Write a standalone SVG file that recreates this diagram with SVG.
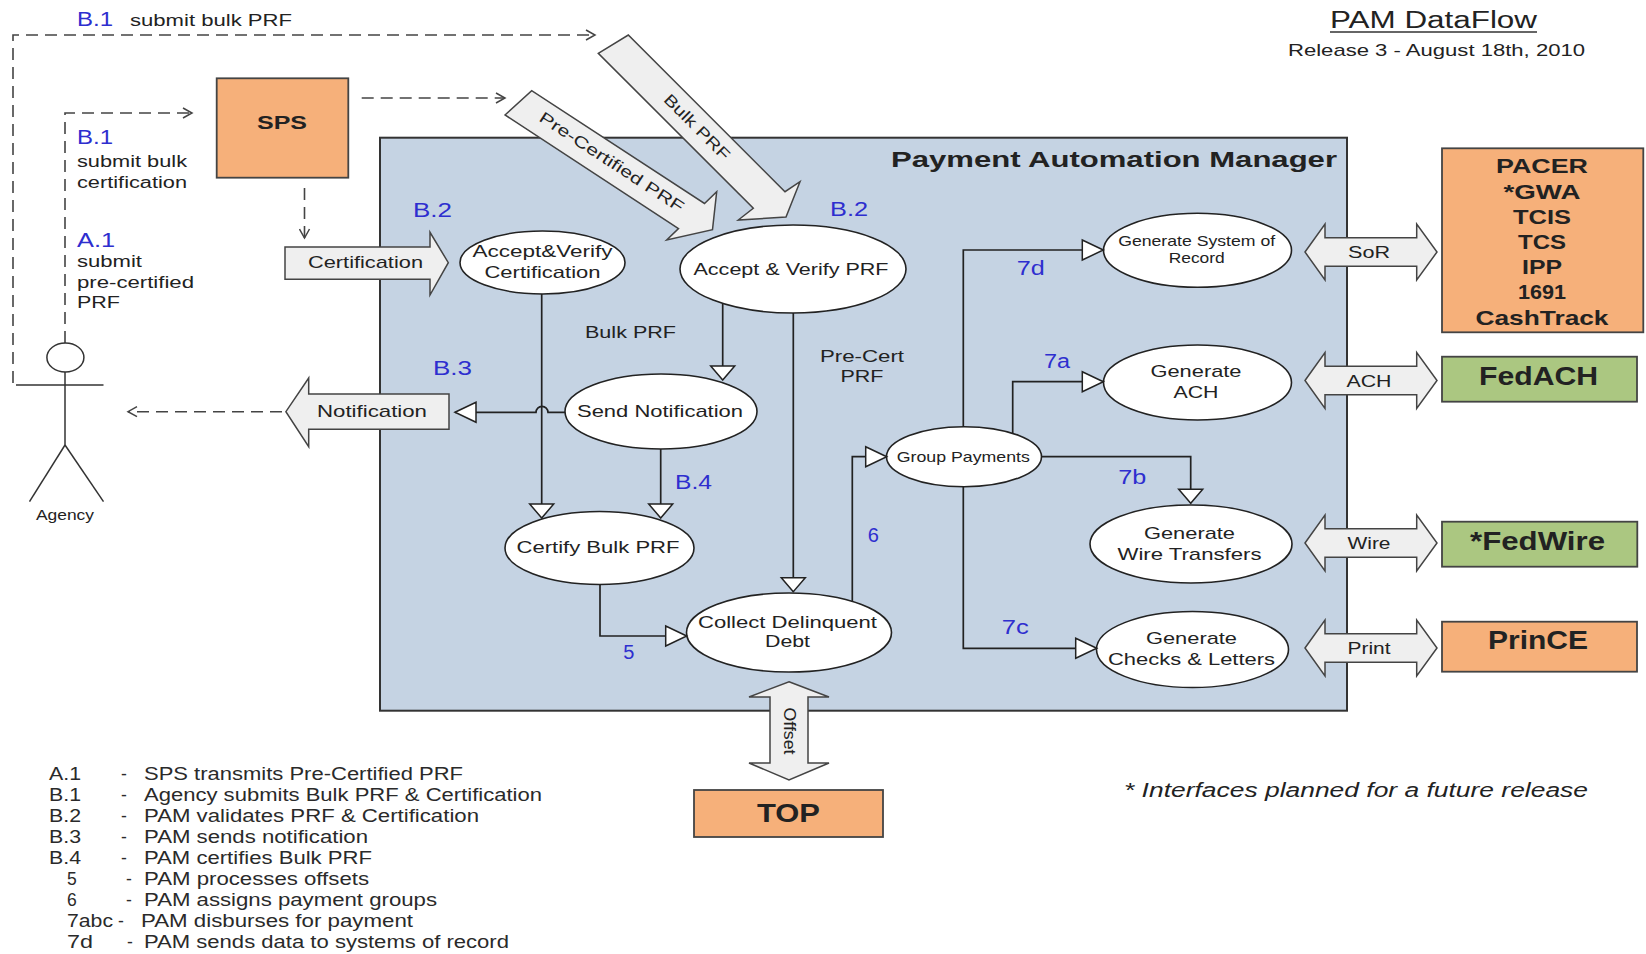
<svg xmlns="http://www.w3.org/2000/svg" width="1646" height="954" viewBox="0 0 1646 954">
<style>
.t{font-family:"Liberation Sans",Arial,sans-serif;fill:#222}
.b{font-weight:bold}
.blue{fill:#2E2ECF;font-size:20px}
.s16{font-size:16px}
.s17{font-size:17px}
.lg{font-size:17.5px;fill:#2a2a2a}
.el{fill:#fff;stroke:#222;stroke-width:1.6}
.cn{fill:none;stroke:#222;stroke-width:1.7}
.ah{fill:#fff;stroke:#222;stroke-width:1.5;stroke-linejoin:miter}
.dash{fill:none;stroke:#444;stroke-width:1.6;stroke-dasharray:12 7}
.blk{fill:#EFEFEF;stroke:#444;stroke-width:1.5;stroke-linejoin:miter}
.org{fill:#F6B07A;stroke:#444;stroke-width:1.8}
.grn{fill:#ABC781;stroke:#444;stroke-width:1.8}
.fig{fill:none;stroke:#333;stroke-width:1.5}
</style>
<defs>
<marker id="chev" markerWidth="12" markerHeight="12" refX="10" refY="6" orient="auto" markerUnits="userSpaceOnUse">
<path d="M1,1 L10,6 L1,11" fill="none" stroke="#444" stroke-width="1.5" stroke-dasharray="none"/>
</marker>
<polygon id="ahD" points="0,0 -12,-14 12,-14"/>
<polygon id="ahR" points="0,0 -21,-10 -21,10"/>
<polygon id="ahL" points="0,0 21,-10 21,10"/>
<polygon id="dbl" points="0,0 20,-28 20,-14.3 111.7,-14.3 111.7,-28 132,0 111.7,28 111.7,14.3 20,14.3 20,28"/>
</defs>
<rect width="1646" height="954" fill="#fff"/>

<!-- title -->
<g id="title">
<text class="t" x="1330" y="28" font-size="23" textLength="207" lengthAdjust="spacingAndGlyphs">PAM DataFlow</text>
<line x1="1330" y1="32" x2="1537" y2="32" stroke="#333" stroke-width="1.5"/>
<text class="t" x="1288" y="56" font-size="17" textLength="297" lengthAdjust="spacingAndGlyphs">Release 3 - August 18th, 2010</text>
</g>

<!-- PAM container -->
<g id="pam">
<rect x="380" y="137.7" width="967" height="573" fill="#C5D3E3" stroke="#333" stroke-width="2"/>
<text class="t b" x="891" y="167" font-size="22" textLength="446" lengthAdjust="spacingAndGlyphs">Payment Automation Manager</text>
</g>

<!-- dashed flows -->
<g id="dashed-connectors">
<path class="dash" d="M13,383 V35 H595" marker-end="url(#chev)"/>
<path class="dash" d="M65,343 V113 H192" marker-end="url(#chev)"/>
<path class="dash" d="M361.7,98 H505" marker-end="url(#chev)"/>
<path class="dash" d="M304.5,188 V238" marker-end="url(#chev)"/>
<path class="dash" d="M282,411.7 H128" marker-end="url(#chev)"/>
</g>

<!-- labels outside -->
<g id="labels-left">
<text class="t blue" x="77" y="26" textLength="36" lengthAdjust="spacingAndGlyphs">B.1</text>
<text class="t s16" x="130" y="26" textLength="162" lengthAdjust="spacingAndGlyphs">submit bulk PRF</text>
<text class="t blue" x="77" y="143.5" textLength="36" lengthAdjust="spacingAndGlyphs">B.1</text>
<text class="t s16" x="77" y="166.7" textLength="110" lengthAdjust="spacingAndGlyphs">submit bulk</text>
<text class="t s16" x="77" y="188.3" textLength="110" lengthAdjust="spacingAndGlyphs">certification</text>
<text class="t blue" x="77" y="246.7" textLength="38" lengthAdjust="spacingAndGlyphs">A.1</text>
<text class="t s16" x="77" y="266.7" textLength="65" lengthAdjust="spacingAndGlyphs">submit</text>
<text class="t s16" x="77" y="288.3" textLength="117" lengthAdjust="spacingAndGlyphs">pre-certified</text>
<text class="t s16" x="77" y="308.3" textLength="43" lengthAdjust="spacingAndGlyphs">PRF</text>
</g>

<!-- Agency actor -->
<g id="agency">
<ellipse class="fig" cx="65.4" cy="357.5" rx="18.5" ry="14.5"/>
<line class="fig" x1="16" y1="385" x2="103.5" y2="385"/>
<line class="fig" x1="65" y1="372" x2="65" y2="445"/>
<line class="fig" x1="65" y1="445" x2="29.5" y2="501.7"/>
<line class="fig" x1="65" y1="445" x2="103.5" y2="501.7"/>
<text class="t" x="65" y="520" font-size="14" text-anchor="middle" textLength="58" lengthAdjust="spacingAndGlyphs">Agency</text>
</g>

<!-- SPS -->
<g id="sps">
<rect class="org" x="216.7" y="78.3" width="131.6" height="99.4"/>
<text class="t b" x="282" y="129" font-size="19" text-anchor="middle" textLength="50" lengthAdjust="spacingAndGlyphs">SPS</text>
</g>

<!-- block arrows -->
<g id="certification-arrow">
<polygon class="blk" points="285,247 430,247 430,232.3 448.3,262.7 430,295 430,279.3 285,279.3"/>
<text class="t s17" x="365.5" y="268.3" text-anchor="middle" textLength="115" lengthAdjust="spacingAndGlyphs">Certification</text>
</g>
<g id="notification-arrow">
<polygon class="blk" points="449,394 449,429.3 308.7,429.3 308.7,446.7 285.9,411.7 308.7,378 308.7,394"/>
<text class="t s17" x="372" y="417" text-anchor="middle" textLength="110" lengthAdjust="spacingAndGlyphs">Notification</text>
</g>
<g id="precert-arrow">
<polygon class="blk" points="505,115 531.7,90.7 704.5,203.5 716.7,191.7 712.5,229.7 666.7,240 678.5,228.5"/>
<text class="t s16" transform="translate(611.7,162) rotate(33.2)" text-anchor="middle" dominant-baseline="central" textLength="169" lengthAdjust="spacingAndGlyphs">Pre-Certified PRF</text>
</g>
<g id="bulkprf-arrow">
<polygon class="blk" points="598.3,53.3 628.3,35 785,191.7 800,181.7 786,217 738.3,220 753.3,208.3"/>
<text class="t s16" transform="translate(697,127) rotate(45)" text-anchor="middle" dominant-baseline="central" textLength="86" lengthAdjust="spacingAndGlyphs">Bulk PRF</text>
</g>

<!-- step labels inside -->
<g id="step-labels">
<text class="t blue" x="413" y="216.7" textLength="39" lengthAdjust="spacingAndGlyphs">B.2</text>
<text class="t blue" x="830" y="216" textLength="38" lengthAdjust="spacingAndGlyphs">B.2</text>
<text class="t blue" x="433" y="375" textLength="39" lengthAdjust="spacingAndGlyphs">B.3</text>
<text class="t blue" x="675" y="489.3" textLength="37" lengthAdjust="spacingAndGlyphs">B.4</text>
<text class="t blue" x="623.3" y="659.3">5</text>
<text class="t blue" x="867.7" y="541.7">6</text>
<text class="t blue" x="1016.7" y="275" textLength="28" lengthAdjust="spacingAndGlyphs">7d</text>
<text class="t blue" x="1044" y="367.7" textLength="26" lengthAdjust="spacingAndGlyphs">7a</text>
<text class="t blue" x="1118.3" y="484" textLength="28" lengthAdjust="spacingAndGlyphs">7b</text>
<text class="t blue" x="1001.7" y="634" textLength="27" lengthAdjust="spacingAndGlyphs">7c</text>
<text class="t s17" x="585" y="338" textLength="91" lengthAdjust="spacingAndGlyphs">Bulk PRF</text>
<text class="t s17" x="862" y="362" text-anchor="middle" textLength="84" lengthAdjust="spacingAndGlyphs">Pre-Cert</text>
<text class="t s17" x="862" y="381.7" text-anchor="middle" textLength="43" lengthAdjust="spacingAndGlyphs">PRF</text>
</g>

<!-- process nodes -->
<g id="accept-cert">
<ellipse class="el" cx="542.5" cy="262.5" rx="82.5" ry="31.5"/>
<text class="t" x="542.5" y="257" font-size="16.5" text-anchor="middle" textLength="140" lengthAdjust="spacingAndGlyphs">Accept&amp;Verify</text>
<text class="t" x="542.5" y="278" font-size="16.5" text-anchor="middle" textLength="116" lengthAdjust="spacingAndGlyphs">Certification</text>
</g>
<g id="accept-prf">
<ellipse class="el" cx="793" cy="269" rx="113" ry="44"/>
<text class="t s17" x="791" y="275" text-anchor="middle" textLength="195" lengthAdjust="spacingAndGlyphs">Accept &amp; Verify PRF</text>
</g>
<g id="send-notification">
<ellipse class="el" cx="661" cy="411.5" rx="96" ry="37.5"/>
<text class="t s17" x="660" y="416.7" text-anchor="middle" textLength="166" lengthAdjust="spacingAndGlyphs">Send Notification</text>
</g>
<g id="certify-bulk">
<ellipse class="el" cx="599.5" cy="548" rx="94.5" ry="36.5"/>
<text class="t s17" x="598" y="552.7" text-anchor="middle" textLength="163" lengthAdjust="spacingAndGlyphs">Certify Bulk PRF</text>
</g>
<g id="collect-debt">
<ellipse class="el" cx="789" cy="632.5" rx="102.5" ry="39.5"/>
<text class="t s17" x="787.5" y="628.3" text-anchor="middle" textLength="179" lengthAdjust="spacingAndGlyphs">Collect Delinquent</text>
<text class="t s17" x="787.5" y="646.7" text-anchor="middle" textLength="45" lengthAdjust="spacingAndGlyphs">Debt</text>
</g>
<g id="group-payments">
<ellipse class="el" cx="964" cy="456.7" rx="77.5" ry="30"/>
<text class="t" x="963.3" y="461.7" font-size="14.5" text-anchor="middle" textLength="133" lengthAdjust="spacingAndGlyphs">Group Payments</text>
</g>
<g id="gen-sor">
<ellipse class="el" cx="1197.5" cy="250.3" rx="94" ry="37"/>
<text class="t" x="1196.7" y="246" font-size="14.5" text-anchor="middle" textLength="157" lengthAdjust="spacingAndGlyphs">Generate System of</text>
<text class="t" x="1196.7" y="262.7" font-size="14.5" text-anchor="middle" textLength="56" lengthAdjust="spacingAndGlyphs">Record</text>
</g>
<g id="gen-ach">
<ellipse class="el" cx="1197.5" cy="382.5" rx="94" ry="37.5"/>
<text class="t s17" x="1196" y="376.7" text-anchor="middle" textLength="91" lengthAdjust="spacingAndGlyphs">Generate</text>
<text class="t s17" x="1196" y="397.7" text-anchor="middle" textLength="45" lengthAdjust="spacingAndGlyphs">ACH</text>
</g>
<g id="gen-wire">
<ellipse class="el" cx="1191" cy="544" rx="101" ry="39"/>
<text class="t s17" x="1189.5" y="539.3" text-anchor="middle" textLength="91" lengthAdjust="spacingAndGlyphs">Generate</text>
<text class="t s17" x="1189.5" y="560" text-anchor="middle" textLength="144" lengthAdjust="spacingAndGlyphs">Wire Transfers</text>
</g>
<g id="gen-checks">
<ellipse class="el" cx="1192.5" cy="649.5" rx="96" ry="38"/>
<text class="t s17" x="1191.5" y="644" text-anchor="middle" textLength="91" lengthAdjust="spacingAndGlyphs">Generate</text>
<text class="t s17" x="1191.5" y="665" text-anchor="middle" textLength="167" lengthAdjust="spacingAndGlyphs">Checks &amp; Letters</text>
</g>

<!-- connectors -->
<g id="connectors">
<path class="cn" d="M541.7,294 V518"/>
<path class="cn" d="M660.7,449 V518"/>
<path class="cn" d="M722.7,303.5 V380"/>
<path class="cn" d="M793.3,313 V591.7"/>
<path class="cn" d="M600,584.5 V636 H686.7"/>
<path class="cn" d="M852.3,601.4 V456.7 H886.7"/>
<path class="cn" d="M963.3,426.7 V250 H1103.3"/>
<path class="cn" d="M1012.7,433.4 V381.7 H1103.3"/>
<path class="cn" d="M1041.5,456.7 H1190.7 V503.3"/>
<path class="cn" d="M963.3,486.7 V648.3 H1096.7"/>
<path class="cn" d="M565,412.3 H548 A6,6 0 0 0 536,412.3 H455"/>
<use href="#ahD" class="ah" x="541.7" y="518"/>
<use href="#ahD" class="ah" x="660.7" y="518"/>
<use href="#ahD" class="ah" x="722.7" y="380"/>
<use href="#ahD" class="ah" x="793.3" y="591.7"/>
<use href="#ahR" class="ah" x="686.7" y="636"/>
<use href="#ahR" class="ah" x="886.7" y="456.7"/>
<use href="#ahR" class="ah" x="1103.3" y="250"/>
<use href="#ahR" class="ah" x="1103.3" y="381.7"/>
<use href="#ahD" class="ah" x="1190.7" y="503.3"/>
<use href="#ahR" class="ah" x="1096.7" y="648.3"/>
<use href="#ahL" class="ah" x="455" y="412.3"/>
</g>

<!-- interface double arrows -->
<g id="sor-arrow">
<use href="#dbl" class="blk" x="1305" y="252"/>
<text class="t s16" x="1369" y="258" text-anchor="middle" textLength="42" lengthAdjust="spacingAndGlyphs">SoR</text>
</g>
<g id="ach-arrow">
<use href="#dbl" class="blk" x="1305" y="380.5"/>
<text class="t s16" x="1369" y="386.5" text-anchor="middle" textLength="45" lengthAdjust="spacingAndGlyphs">ACH</text>
</g>
<g id="wire-arrow">
<use href="#dbl" class="blk" x="1305" y="543"/>
<text class="t s16" x="1369" y="549" text-anchor="middle" textLength="43" lengthAdjust="spacingAndGlyphs">Wire</text>
</g>
<g id="print-arrow">
<use href="#dbl" class="blk" x="1305" y="648"/>
<text class="t s16" x="1369" y="654" text-anchor="middle" textLength="43" lengthAdjust="spacingAndGlyphs">Print</text>
</g>
<g id="offset-arrow">
<polygon class="blk" points="789,681.7 829,697 808,697 808,763 829,763 789,780 749,763 770,763 770,697 749,697"/>
<text class="t" transform="translate(789,731) rotate(90)" font-size="17" text-anchor="middle" dominant-baseline="central" textLength="47" lengthAdjust="spacingAndGlyphs">Offset</text>
</g>

<!-- external systems -->
<g id="pacer">
<rect class="org" x="1442" y="148.3" width="201.3" height="184"/>
<g class="t b" font-size="21" text-anchor="middle">
<text x="1542" y="173" textLength="92" lengthAdjust="spacingAndGlyphs">PACER</text>
<text x="1542" y="199" textLength="77" lengthAdjust="spacingAndGlyphs">*GWA</text>
<text x="1542" y="224" textLength="58" lengthAdjust="spacingAndGlyphs">TCIS</text>
<text x="1542" y="249" textLength="48" lengthAdjust="spacingAndGlyphs">TCS</text>
<text x="1542" y="274" textLength="40" lengthAdjust="spacingAndGlyphs">IPP</text>
<text x="1542" y="299" textLength="48" lengthAdjust="spacingAndGlyphs">1691</text>
<text x="1542" y="325" textLength="133" lengthAdjust="spacingAndGlyphs">CashTrack</text>
</g>
</g>
<g id="fedach">
<rect class="grn" x="1442" y="356.7" width="195" height="45"/>
<text class="t b" x="1538.5" y="385" font-size="25" text-anchor="middle" textLength="119" lengthAdjust="spacingAndGlyphs">FedACH</text>
</g>
<g id="fedwire">
<rect class="grn" x="1442" y="521.7" width="195.3" height="45"/>
<text class="t b" x="1537.5" y="550" font-size="25" text-anchor="middle" textLength="135" lengthAdjust="spacingAndGlyphs">*FedWire</text>
</g>
<g id="prince">
<rect class="org" x="1442" y="621.7" width="195" height="50"/>
<text class="t b" x="1538" y="649" font-size="25" text-anchor="middle" textLength="100" lengthAdjust="spacingAndGlyphs">PrinCE</text>
</g>
<g id="top">
<rect class="org" x="694" y="790" width="189" height="47"/>
<text class="t b" x="788.5" y="822" font-size="25" text-anchor="middle" textLength="63" lengthAdjust="spacingAndGlyphs">TOP</text>
</g>

<!-- note -->
<g id="note">
<text class="t" x="1124" y="797" font-size="20" font-style="italic" textLength="464" lengthAdjust="spacingAndGlyphs">* Interfaces planned for a future release</text>
</g>

<!-- legend -->
<g id="legend" class="t lg">
<text x="49" y="780" textLength="32" lengthAdjust="spacingAndGlyphs">A.1</text><text x="121" y="780">-</text><text x="144" y="780" textLength="319" lengthAdjust="spacingAndGlyphs">SPS transmits Pre-Certified PRF</text>
<text x="49" y="801" textLength="32" lengthAdjust="spacingAndGlyphs">B.1</text><text x="121" y="801">-</text><text x="144" y="801" textLength="398" lengthAdjust="spacingAndGlyphs">Agency submits Bulk PRF &amp; Certification</text>
<text x="49" y="822" textLength="32" lengthAdjust="spacingAndGlyphs">B.2</text><text x="121" y="822">-</text><text x="144" y="822" textLength="335" lengthAdjust="spacingAndGlyphs">PAM validates PRF &amp; Certification</text>
<text x="49" y="843" textLength="32" lengthAdjust="spacingAndGlyphs">B.3</text><text x="121" y="843">-</text><text x="144" y="843" textLength="224" lengthAdjust="spacingAndGlyphs">PAM sends notification</text>
<text x="49" y="864" textLength="32" lengthAdjust="spacingAndGlyphs">B.4</text><text x="121" y="864">-</text><text x="144" y="864" textLength="228" lengthAdjust="spacingAndGlyphs">PAM certifies Bulk PRF</text>
<text x="67" y="885">5</text><text x="126" y="885">-</text><text x="144" y="885" textLength="225" lengthAdjust="spacingAndGlyphs">PAM processes offsets</text>
<text x="67" y="906">6</text><text x="126" y="906">-</text><text x="144" y="906" textLength="293" lengthAdjust="spacingAndGlyphs">PAM assigns payment groups</text>
<text x="67" y="927" textLength="46" lengthAdjust="spacingAndGlyphs">7abc</text><text x="118" y="927">-</text><text x="141" y="927" textLength="272" lengthAdjust="spacingAndGlyphs">PAM disburses for payment</text>
<text x="67" y="948" textLength="26" lengthAdjust="spacingAndGlyphs">7d</text><text x="127" y="948">-</text><text x="144" y="948" textLength="365" lengthAdjust="spacingAndGlyphs">PAM sends data to systems of record</text>
</g>
</svg>
